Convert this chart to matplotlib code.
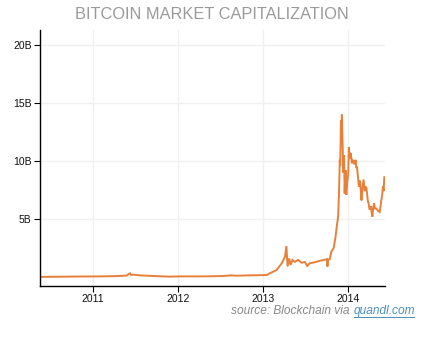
import matplotlib.pyplot as plt
import matplotlib.dates as mdates
import numpy as np
import pandas as pd

plt.rc('font', family='Liberation Sans', size=8)

# market cap, billions of USD
dates = [
    '2010-05-19', '2010-08-01', '2010-11-01', '2011-02-01', '2011-04-15',
    '2011-05-25', '2011-06-09', '2011-06-14', '2011-06-25', '2011-07-20',
    '2011-09-01', '2011-10-20', '2011-11-20', '2012-01-10', '2012-03-15',
    '2012-05-15', '2012-07-10', '2012-08-17', '2012-09-05', '2012-11-04',
    '2013-01-16', '2013-01-29', '2013-02-27', '2013-03-21', '2013-04-04',
    '2013-04-10', '2013-04-15', '2013-04-22', '2013-04-28', '2013-05-06',
    '2013-05-16', '2013-05-30', '2013-06-14', '2013-06-28', '2013-07-08',
    '2013-07-19', '2013-08-10', '2013-09-01', '2013-09-18', '2013-10-01',
    '2013-10-03', '2013-10-06', '2013-10-13', '2013-10-20', '2013-10-30',
    '2013-11-07', '2013-11-13', '2013-11-18', '2013-11-22', '2013-11-25',
    '2013-11-27', '2013-11-30', '2013-12-02', '2013-12-04', '2013-12-07',
    '2013-12-10', '2013-12-13', '2013-12-16', '2013-12-18', '2013-12-20',
    '2013-12-23', '2013-12-27', '2013-12-31', '2014-01-03', '2014-01-07',
    '2014-01-11', '2014-01-16', '2014-01-21', '2014-01-27', '2014-02-01',
    '2014-02-04', '2014-02-07', '2014-02-11', '2014-02-15', '2014-02-20',
    '2014-02-26', '2014-03-02', '2014-03-07', '2014-03-12', '2014-03-18',
    '2014-03-22', '2014-03-25', '2014-03-29', '2014-04-02', '2014-04-08',
    '2014-04-11', '2014-04-14', '2014-04-17', '2014-04-21', '2014-04-25',
    '2014-05-01', '2014-05-08', '2014-05-15', '2014-05-19', '2014-05-22',
    '2014-05-26', '2014-05-29', '2014-06-01', '2014-06-04',
]
market_cap = [
    0.01, 0.02, 0.04, 0.05, 0.08,
    0.12, 0.32, 0.18, 0.20, 0.14,
    0.10, 0.06, 0.03, 0.05, 0.05,
    0.06, 0.08, 0.14, 0.11, 0.14,
    0.17, 0.32, 0.60, 1.18, 1.75,
    2.67, 0.90, 1.60, 1.03, 1.47,
    1.30, 1.47, 1.23, 1.30, 0.95,
    1.18, 1.27, 1.40, 1.47, 1.53,
    0.90, 1.50, 1.53, 2.20, 2.50,
    3.50, 4.50, 5.20, 7.50, 10.1,
    9.60, 13.5, 12.0, 14.0, 11.5,
    9.00, 10.5, 7.20, 8.60, 9.20,
    7.07, 8.20, 8.80, 11.2, 10.2,
    10.7, 9.80, 10.1, 9.70, 10.1,
    9.40, 9.50, 8.60, 7.80, 8.30,
    6.60, 7.60, 8.40, 7.40, 7.80,
    7.20, 6.60, 6.30, 5.80, 6.10,
    5.50, 5.20, 5.90, 6.35, 5.90,
    5.90, 5.70, 5.60, 6.10, 6.60,
    7.10, 7.80, 7.40, 8.60,
]
source_text = 'source: Blockchain via'
link_text = 'quandl.com'

t = pd.to_datetime(dates)
v = np.array(market_cap)

fig = plt.figure(figsize=(4.25, 3.5), dpi=100)
ax = fig.add_axes([0.0941, 0.1829, 0.8118, 0.7314])

ax.plot(t, v, color='#e8803a', linewidth=1.4, solid_joinstyle='miter')

ax.set_xlim(pd.Timestamp('2010-05-19'), pd.Timestamp('2014-06-07'))
ax.set_ylim(-0.776, 21.29)
ax.set_yticks([5, 10, 15, 20])
ax.set_yticklabels(['5B', '10B', '15B', '20B'])
ax.xaxis.set_major_locator(mdates.YearLocator())
ax.xaxis.set_major_formatter(mdates.DateFormatter('%Y'))

ax.grid(True, color='#f0f0f0', linewidth=1.0)
ax.set_axisbelow(True)
for side in ['top', 'right']:
    ax.spines[side].set_visible(False)
for side in ['left', 'bottom']:
    ax.spines[side].set_linewidth(1.0)
ax.tick_params(direction='out', length=4, width=0.8, pad=2, labelsize=7.5,
               labelcolor='#111111')

fig.text(0.498, 0.958, 'BITCOIN MARKET CAPITALIZATION', ha='center',
         va='center', fontsize=11.8, color='#9a9a9a')

# source line: grey italic text followed by an underlined link
fig.canvas.draw()
renderer = fig.canvas.get_renderer()
base = 0.102
link = fig.text(0.976, base, link_text, ha='right', va='baseline',
                fontsize=8.6, style='italic', color='#4a8fbf')
bb = link.get_window_extent(renderer).transformed(fig.transFigure.inverted())
fig.text(bb.x0 - 0.008, base, source_text, ha='right', va='baseline',
         fontsize=8.6, style='italic', color='#888888')
fig.add_artist(plt.Line2D([bb.x0 + 0.002, bb.x1 - 0.002],
                          [base - 0.007, base - 0.007],
                          transform=fig.transFigure, color='#4a8fbf',
                          linewidth=0.7))

fig.savefig('out.png', dpi=100)
